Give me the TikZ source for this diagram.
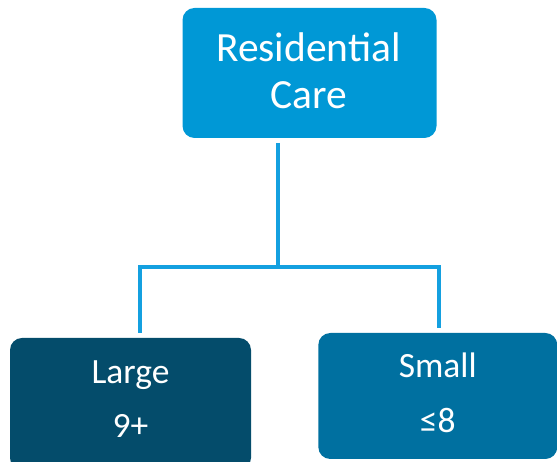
\documentclass[tikz,border=0pt]{standalone}
\usepackage{fontspec}
\setmainfont{Carlito}
\definecolor{topblue}{HTML}{0098D6}
\definecolor{darkteal}{HTML}{044C6B}
\definecolor{midblue}{HTML}{0070A0}
\definecolor{linkblue}{HTML}{14A0E0}
\tikzset{
  box/.style={rounded corners=12pt, inner sep=0pt, draw=none},
  link/.style={draw=linkblue, line width=4pt},
  bigtxt/.style={text=white, inner sep=0pt, anchor=base, font=\fontsize{41.5}{48}\selectfont},
  smalltxt/.style={text=white, inner sep=0pt, anchor=base, font=\fontsize{35.5}{42}\selectfont},
}
\begin{document}
\begin{tikzpicture}[x=1pt,y=1pt]
  \useasboundingbox (0,0) rectangle (557,462);
  \clip (0,0) rectangle (557,462);
  % boxes
  \node[box, fill=topblue, minimum width=254pt, minimum height=130pt] (res) at (309.5,389) {};
  \node[box, fill=darkteal, minimum width=241pt, minimum height=132pt] (large) at (130.5,58) {};
  \node[box, fill=midblue, minimum width=239pt, minimum height=126pt] (small) at (437.8,66) {};
  % labels
  \node[bigtxt] (resA) at (308.5,400) {Residential};
  \node[bigtxt] (resB) at (308.5,353) {Care};
  \node[smalltxt] (largeA) at (130.5,78) {Large};
  \node[smalltxt] (largeB) at (130.5,24) {9+};
  \node[smalltxt] (smallA) at (437.8,84) {Small};
  \node[smalltxt] (smallB) at (437.8,29) {≤8};
  % connectors
  \coordinate (top) at (278,319);
  \coordinate (mid) at (278,195);
  \coordinate (lend) at (140,129);
  \coordinate (rend) at (439,134);
  \draw[link] (top) -- (mid);
  \draw[link] (lend) |- (mid) -| (rend);
\end{tikzpicture}
\end{document}
